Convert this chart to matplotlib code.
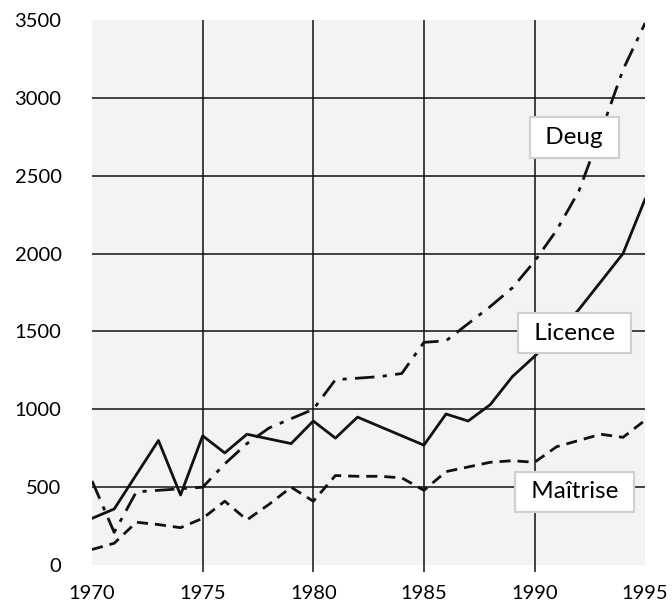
import matplotlib
matplotlib.use('Agg')
import matplotlib.pyplot as plt

plt.rcParams['font.family'] = ['Lato', 'DejaVu Sans']

years = list(range(1970, 1996))

deug = [540, 210, 470, 480, 490, 500, 650, 780, 880, 940, 1000, 1190, 1200,
        1210, 1230, 1430, 1440, 1550, 1660, 1780, 1950, 2150, 2400, 2780,
        3180, 3480]
licence = [300, 360, 580, 800, 450, 830, 720, 840, 810, 780, 925, 815, 950,
           890, 830, 770, 970, 925, 1030, 1210, 1340, 1480, 1640, 1820, 2000,
           2350]
maitrise = [100, 140, 275, 260, 240, 300, 410, 290, 390, 500, 410, 575, 570,
            570, 560, 480, 600, 630, 660, 670, 660, 760, 800, 840, 820, 930]

x_ticks = [1970, 1975, 1980, 1985, 1990, 1995]
y_ticks = [0, 500, 1000, 1500, 2000, 2500, 3000, 3500]

fig = plt.figure(figsize=(6.72, 6.05), dpi=100)
ax = fig.add_axes([0.137, 0.066, 0.823, 0.901])
ax.set_facecolor('#f3f3f3')

# interior grid
ax.hlines(y_ticks[1:-1], 1970, 1995, color='#111111', linewidth=1.1, zorder=1)
ax.vlines(x_ticks[1:-1], -45, 3500, color='#111111', linewidth=1.1,
          zorder=1, clip_on=False)

lw = 2.0
ax.plot(years, deug, color='#111111', linewidth=lw, zorder=3,
        dashes=(7, 3, 1.5, 3))
ax.plot(years, licence, color='#111111', linewidth=lw, zorder=3)
ax.plot(years, maitrise, color='#111111', linewidth=lw, zorder=3,
        dashes=(4, 2.5))

box = dict(boxstyle='square,pad=0.4', facecolor='white',
           edgecolor='#cfcfcf', linewidth=1.5)
ax.text(1991.8, 2745, ' Deug ', fontsize=17.5, ha='center', va='center',
        bbox=box, zorder=5)
ax.text(1991.8, 1490, ' Licence ', fontsize=17.5, ha='center', va='center',
        bbox=box, zorder=5)
ax.text(1991.8, 470, ' Maîtrise ', fontsize=17.5, ha='center', va='center',
        bbox=box, zorder=5)

ax.set_xlim(1970, 1995)
ax.set_ylim(0, 3500)
ax.set_xticks(x_ticks)
ax.set_yticks(y_ticks)
ax.tick_params(axis='both', length=0, labelsize=14.5)
ax.tick_params(axis='x', pad=14)
ax.tick_params(axis='y', pad=22)
for s in ax.spines.values():
    s.set_visible(False)

fig.savefig('out.png', dpi=100)
